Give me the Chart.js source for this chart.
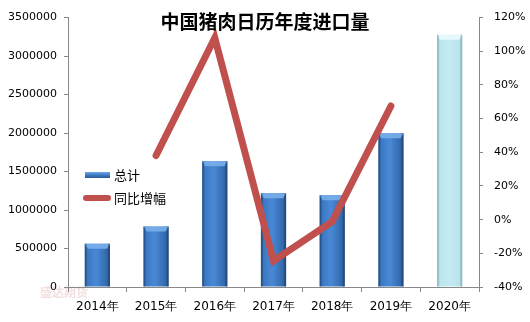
<!DOCTYPE html>
<html>
<head>
<meta charset="utf-8">
<script src="https://cdn.jsdelivr.net/npm/chart.js@4/dist/chart.umd.min.js"></script>
<style>
html,body{margin:0;padding:0;background:#fff;}
#wrap{width:530px;height:322px;position:relative;}
</style>
</head>
<body>
<div id="wrap"><canvas id="c" width="530" height="322"></canvas></div>
<script>
const categories = ['2014年','2015年','2016年','2017年','2018年','2019年','2020年'];
const totalValues = [562000, 785000, 1634000, 1218000, 1193000, 1999000, 3277000];
const yoyValues = [null, 38.1, 108, -24.5, -1.2, 67.5, null];
const leftTicks = [0, 500000, 1000000, 1500000, 2000000, 2500000, 3000000, 3500000];
const rightTicks = [-40, -20, 0, 20, 40, 60, 80, 100, 120];
const titleText = '中国猪肉日历年度进口量';
const seriesNames = ['总计', '同比增幅'];
const watermarkText = '盛达期货';

const FONT = 'DejaVu Sans';
const BAR_PCT = 0.43;

function barFill(ctx) {
  const chart = ctx.chart;
  const xs = chart.scales.x;
  const area = chart.chartArea;
  const last = ctx.dataIndex === categories.length - 1;
  if (!xs || !area || xs.getPixelForValue(ctx.dataIndex) == null) return last ? '#BDE7F0' : '#3E7BC4';
  const cx = xs.getPixelForValue(ctx.dataIndex);
  const w = (xs.width / categories.length) * BAR_PCT;
  const g = chart.ctx.createLinearGradient(cx - w / 2, 0, cx + w / 2, 0);
  if (last) {
    g.addColorStop(0, '#9CCBD6');
    g.addColorStop(0.12, '#BCE6EF');
    g.addColorStop(0.5, '#C4EBF3');
    g.addColorStop(0.88, '#BAE3EC');
    g.addColorStop(1, '#93C2CD');
  } else {
    g.addColorStop(0, '#2C5E9C');
    g.addColorStop(0.12, '#3D79C2');
    g.addColorStop(0.45, '#4889D6');
    g.addColorStop(0.85, '#356BAE');
    g.addColorStop(1, '#27528A');
  }
  return g;
}

const bevelPlugin = {
  id: 'bevel',
  afterDatasetDraw(chart, args) {
    if (args.index !== 0) return;
    const meta = chart.getDatasetMeta(0);
    const c = chart.ctx;
    c.save();
    meta.data.forEach((el, i) => {
      const last = i === categories.length - 1;
      const x = el.x, w = el.width, top = el.y;
      const l = x - w / 2, r = x + w / 2;
      c.beginPath();
      c.moveTo(l, top);
      c.lineTo(r, top);
      c.lineTo(r - 3, top + 5);
      c.lineTo(l + 3, top + 5);
      c.closePath();
      c.fillStyle = last ? 'rgba(235,250,253,0.9)' : 'rgba(120,175,235,0.9)';
      c.fill();
      c.fillStyle = last ? 'rgba(120,160,170,0.35)' : 'rgba(20,50,90,0.3)';
      c.fillRect(l, top, 2, el.base - top);
      c.fillRect(r - 2, top, 2, el.base - top);
    });
    c.restore();
  }
};

const decoPlugin = {
  id: 'deco',
  beforeDraw(chart) {
    const c = chart.ctx;
    c.save();
    c.fillStyle = 'rgba(220,150,150,0.3)';
    c.font = 'bold 12px "Noto Sans CJK SC"';
    c.textBaseline = 'middle';
    c.textAlign = 'left';
    c.fillText(watermarkText, 40, 292);
    c.restore();
  },
  afterDraw(chart) {
    const c = chart.ctx;
    c.save();
    // title
    c.fillStyle = '#000';
    c.font = 'bold 19px "Noto Sans CJK SC"';
    c.textAlign = 'center';
    c.textBaseline = 'middle';
    c.fillText(titleText, 265, 22);
    // legend
    const ds0 = chart.data.datasets[0];
    const ds1 = chart.data.datasets[1];
    const g = c.createLinearGradient(0, 172, 0, 178);
    g.addColorStop(0, '#6FA8E8');
    g.addColorStop(0.5, '#3E7BC4');
    g.addColorStop(1, '#2A5B98');
    c.fillStyle = g;
    c.fillRect(85, 172, 25, 6);
    c.strokeStyle = ds1.borderColor;
    c.lineWidth = 6;
    c.lineCap = 'round';
    c.beginPath();
    c.moveTo(86, 198);
    c.lineTo(108, 198);
    c.stroke();
    c.fillStyle = '#000';
    c.font = '13px "Noto Sans CJK SC"';
    c.textAlign = 'left';
    c.fillText(ds0.label, 114, 175);
    c.fillText(ds1.label, 114, 198);
    c.restore();
  }
};

new Chart(document.getElementById('c'), {
  data: {
    labels: categories,
    datasets: [
      {
        type: 'bar',
        label: seriesNames[0],
        data: totalValues,
        yAxisID: 'y',
        backgroundColor: barFill,
        borderWidth: 0,
        categoryPercentage: 1,
        barPercentage: BAR_PCT,
        order: 2
      },
      {
        type: 'line',
        label: seriesNames[1],
        data: yoyValues,
        yAxisID: 'y1',
        borderColor: '#C0504D',
        borderWidth: 7,
        borderCapStyle: 'round',
        borderJoinStyle: 'miter',
        pointRadius: 0,
        tension: 0,
        spanGaps: false,
        order: 1
      }
    ]
  },
  options: {
    responsive: false,
    animation: false,
    devicePixelRatio: 1,
    layout: { padding: { top: 15, left: 0, right: 0, bottom: 0 } },
    plugins: { legend: { display: false }, title: { display: false }, tooltip: { enabled: false } },
    scales: {
      x: {
        offset: true,
        grid: { display: true, drawOnChartArea: false, offset: true, tickLength: 5, color: '#888' },
        border: { color: '#888', width: 1 },
        ticks: { color: '#000', font: { family: FONT, size: 12 }, padding: 8, maxRotation: 0 },
        afterFit(s) { s.height = 35; }
      },
      y: {
        position: 'left',
        min: 0, max: 3500000,
        afterBuildTicks(s) { s.ticks = leftTicks.map(v => ({ value: v })); },
        grid: { display: true, drawOnChartArea: false, tickLength: 4, color: '#888' },
        border: { color: '#888', width: 1 },
        ticks: { color: '#000', font: { family: FONT, size: 11 }, padding: 7, callback: v => String(v) },
        afterFit(s) { s.width = 68; }
      },
      y1: {
        position: 'right',
        min: -40, max: 120,
        afterBuildTicks(s) { s.ticks = rightTicks.map(v => ({ value: v })); },
        grid: { display: true, drawOnChartArea: false, tickLength: 4, color: '#888' },
        border: { color: '#888', width: 1 },
        ticks: { color: '#000', font: { family: FONT, size: 11 }, padding: 11, callback: v => v + '%' },
        afterFit(s) { s.width = 51; }
      }
    }
  },
  plugins: [bevelPlugin, decoPlugin]
});
</script>
</body>
</html>
